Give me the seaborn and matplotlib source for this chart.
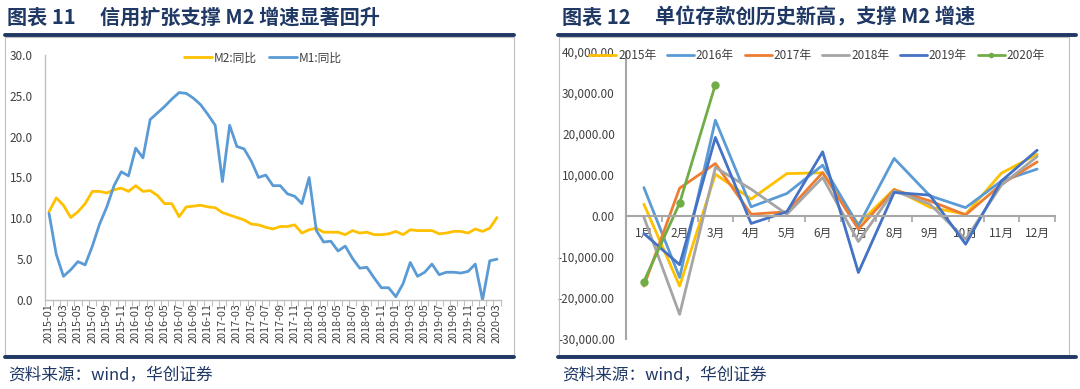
import matplotlib
matplotlib.use("Agg")
import matplotlib.pyplot as plt
import seaborn as sns
import numpy as np
import pandas as pd
from matplotlib.lines import Line2D
from matplotlib.patches import Rectangle
from matplotlib.ticker import FuncFormatter, FixedLocator

# ---------------- data ----------------
months = [f"{y}-{m:02d}" for y in range(2015, 2021) for m in range(1, 13)][:63]

m2_yoy = [10.8, 12.5, 11.6, 10.1, 10.8, 11.8, 13.3, 13.3, 13.1, 13.5, 13.7, 13.3,
          14.0, 13.3, 13.4, 12.8, 11.8, 11.8, 10.2, 11.4, 11.5, 11.6, 11.4, 11.3,
          10.7, 10.4, 10.1, 9.8, 9.3, 9.2, 8.9, 8.7, 9.0, 9.0, 9.2, 8.2,
          8.6, 8.8, 8.3, 8.3, 8.3, 8.0, 8.5, 8.2, 8.3, 8.0, 8.0, 8.1,
          8.4, 8.0, 8.6, 8.5, 8.5, 8.5, 8.1, 8.2, 8.4, 8.4, 8.2, 8.7,
          8.4, 8.8, 10.1]
m1_yoy = [10.6, 5.6, 2.9, 3.7, 4.7, 4.3, 6.6, 9.3, 11.4, 14.0, 15.7, 15.2,
          18.6, 17.4, 22.1, 22.9, 23.7, 24.6, 25.4, 25.3, 24.7, 23.9, 22.7, 21.4,
          14.5, 21.4, 18.8, 18.5, 17.0, 15.0, 15.3, 14.0, 14.0, 13.0, 12.7, 11.8,
          15.0, 8.5, 7.1, 7.2, 6.0, 6.6, 5.1, 3.9, 4.0, 2.7, 1.5, 1.5,
          0.4, 2.0, 4.6, 2.9, 3.4, 4.4, 3.1, 3.4, 3.4, 3.3, 3.5, 4.4,
          0.0, 4.8, 5.0]
left_series = ["M2:同比", "M1:同比"]

month_names = ["1月", "2月", "3月", "4月", "5月", "6月", "7月", "8月", "9月", "10月", "11月", "12月"]
dep_2015 = [2850, -17100, 10150, 4100, 10300, 10500, -2000, 6500, 2100, 400, 10400, 15000]
dep_2016 = [6900, -15000, 23300, 2200, 5450, 12350, -2400, 14000, 4900, 2000, 8500, 11400]
dep_2017 = [-17100, 6750, 12750, 400, 1000, 10550, -3250, 6350, 3650, 250, 7700, 13150]
dep_2018 = [-300, -24000, 11800, 6500, 400, 9350, -6250, 6100, 2850, -5700, 7500, 14450]
dep_2019 = [-4300, -11900, 19100, -1850, 1000, 15600, -13800, 5700, 5050, -6900, 8500, 16000]
dep_2020 = [-16000, 3100, 32000]
years = ["2015年", "2016年", "2017年", "2018年", "2019年", "2020年"]

# ---------------- styling ----------------
sns.set_theme(style="white")
plt.rcParams["font.family"] = ["Noto Sans CJK SC", "DejaVu Sans"]

W, H = 1080, 389
fig = plt.figure(figsize=(W / 100, H / 100), dpi=100)

def fx(px):
    return px / W

def fy(py):
    return 1 - py / H

navy = "#1F3864"
tick_col = "#404040"
axis_col = "#BFBFBF"

# ------------- frames / titles -------------
for (x0, x1, bx0, bx1) in [(5, 514, 5, 514), (558, 1076, 559, 1069)]:
    fig.add_artist(Line2D([fx(x0), fx(x1)], [fy(34.5)] * 2, color=navy, lw=2.8))
    fig.add_artist(Line2D([fx(x0), fx(x1)], [fy(357)] * 2, color=navy, lw=2.8))
    fig.add_artist(Rectangle((fx(bx0), fy(355)), fx(bx1) - fx(bx0), fy(37) - fy(355),
                             transform=fig.transFigure, fill=False,
                             edgecolor="#BFBFBF", lw=0.8))

fig.text(fx(7), fy(17), "图表 11", fontsize=14.5, fontweight="bold", color=navy, va="center")
fig.text(fx(100), fy(17), "信用扩张支撑 M2 增速显著回升", fontsize=14.5, fontweight="bold",
         color=navy, va="center")
fig.text(fx(562), fy(17), "图表 12", fontsize=14.5, fontweight="bold", color=navy, va="center")
fig.text(fx(655), fy(17), "单位存款创历史新高，支撑 M2 增速", fontsize=14.5, fontweight="bold",
         color=navy, va="center")
fig.text(fx(8), fy(375), "资料来源：wind，华创证券", fontsize=12, style="italic",
         color=navy, va="center")
fig.text(fx(562), fy(375), "资料来源：wind，华创证券", fontsize=12, style="italic",
         color=navy, va="center")

# ------------- left chart -------------
ax1 = fig.add_axes([fx(45.4), fy(300), fx(500.6) - fx(45.4), fy(55) - fy(300)])
df1 = pd.DataFrame({
    "idx": np.concatenate([np.arange(len(m2_yoy)), np.arange(len(m1_yoy))]),
    "value": m2_yoy + m1_yoy,
    "series": [left_series[0]] * len(m2_yoy) + [left_series[1]] * len(m1_yoy),
})
pal1 = {left_series[0]: "#FFC000", left_series[1]: "#5B9BD5"}
sns.lineplot(data=df1, x="idx", y="value", hue="series", palette=pal1, ax=ax1,
             linewidth=2.0, legend=False)
ax1.set_xlim(-0.5, len(months) - 0.5)
ax1.set_ylim(0, 30)
ax1.set_yticks(np.arange(0, 31, 5))
ax1.yaxis.set_major_formatter(FuncFormatter(lambda v, p: f"{v:.1f}"))
ax1.set_xticks(np.arange(0, len(months), 2))
ax1.set_xticklabels(months[::2], rotation=90)
ax1.xaxis.set_minor_locator(FixedLocator(np.arange(-0.5, len(months), 1)))
ax1.tick_params(axis="x", which="major", length=0, pad=2, labelsize=7.8, colors=tick_col)
ax1.tick_params(axis="x", which="minor", length=4, width=0.8, color=axis_col, direction="out", bottom=True)
ax1.tick_params(axis="y", length=0, pad=9, labelsize=8.5, colors=tick_col)
ax1.set_xlabel("")
ax1.set_ylabel("")
for s in ["top", "right"]:
    ax1.spines[s].set_visible(False)
for s in ["left", "bottom"]:
    ax1.spines[s].set_color(axis_col)
    ax1.spines[s].set_linewidth(1.0)
ax1.set_facecolor("none")

h1 = [Line2D([], [], color=pal1[s], lw=2.0) for s in left_series]
fig.legend(h1, left_series, loc="center", bbox_to_anchor=(fx(263), fy(58)), ncol=2,
           frameon=False, fontsize=8.5, handlelength=2.4, handletextpad=0.15,
           columnspacing=1.0, labelcolor=tick_col)

# ------------- right chart -------------
ax2 = fig.add_axes([fx(626), fy(339), fx(1055) - fx(626), fy(51.7) - fy(339)])
pal2 = {"2015年": "#FFC000", "2016年": "#5B9BD5", "2017年": "#ED7D31",
        "2018年": "#A5A5A5", "2019年": "#4472C4", "2020年": "#70AD47"}
series2 = [dep_2015, dep_2016, dep_2017, dep_2018, dep_2019, dep_2020]
rows = []
for yr, vals in zip(years, series2):
    for i, v in enumerate(vals):
        rows.append((yr, i, v))
df2 = pd.DataFrame(rows, columns=["year", "idx", "value"])
for yr in years:
    sub = df2[df2["year"] == yr]
    sns.lineplot(data=sub, x="idx", y="value", color=pal2[yr], ax=ax2, linewidth=2.0,
                 marker="o" if yr == "2020年" else None, markersize=6,
                 markeredgewidth=0, legend=False)
ax2.set_xlim(-0.5, len(month_names) - 0.5)
ax2.set_ylim(-30000, 40000)
ax2.set_yticks(np.arange(-30000, 40001, 10000))
ax2.yaxis.set_major_formatter(FuncFormatter(lambda v, p: f"{v:,.2f}"))
ax2.set_xticks(np.arange(len(month_names)))
ax2.set_xticklabels(month_names)
ax2.xaxis.set_minor_locator(FixedLocator(np.arange(-0.5, len(month_names), 1)))
ax2.spines["bottom"].set_position(("data", 0))
ax2.tick_params(axis="x", which="major", length=0, pad=8, labelsize=8.5, colors=tick_col)
ax2.tick_params(axis="x", which="minor", length=4, width=1.2, color="#A6A6A6", direction="out", bottom=True)
ax2.tick_params(axis="y", length=0, pad=8, labelsize=8.5, colors=tick_col)
ax2.set_xlabel("")
ax2.set_ylabel("")
for s in ["top", "right"]:
    ax2.spines[s].set_visible(False)
for s in ["left", "bottom"]:
    ax2.spines[s].set_color("#A6A6A6")
    ax2.spines[s].set_linewidth(1.5)
ax2.set_facecolor("none")

h2 = [Line2D([], [], color=pal2[y], lw=2.0,
             marker="o" if y == "2020年" else None, markersize=4, markeredgewidth=0)
      for y in years]
fig.legend(h2, years, loc="center", bbox_to_anchor=(fx(817), fy(56)), ncol=6,
           frameon=False, fontsize=8.5, handlelength=2.3, handletextpad=0.15,
           columnspacing=0.9, labelcolor=tick_col)

fig.savefig("out.png", dpi=100)
